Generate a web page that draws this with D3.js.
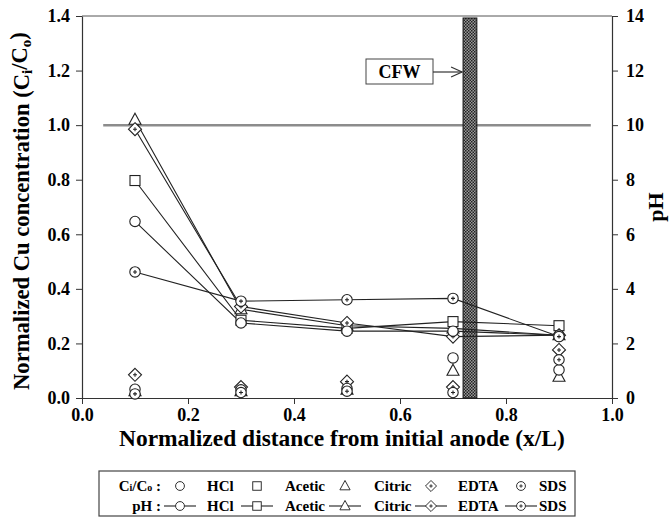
<!DOCTYPE html>
<html><head><meta charset="utf-8">
<script src="https://cdn.jsdelivr.net/npm/d3@7"></script>
<style>body{margin:0;background:#fff} svg{display:block} text{font-family:"Liberation Serif","Times New Roman",serif;font-weight:bold;fill:#000}</style>
</head><body><svg id="c" width="672" height="519"></svg>
<script>
// ---------- data ----------
const xPositions = [0.1, 0.3, 0.5, 0.7, 0.9];
const seriesNames = ["HCl", "Acetic", "Citric", "EDTA", "SDS"];
const seriesSymbols = ["circle", "square", "triangle", "diamond", "circleplus"];
// Normalized Cu concentration (Ci/Co), left axis
const ciHCl    = [0.032, 0.030, 0.035, 0.147, 0.103];
const ciAcetic = [null, null, null, null, null];
const ciCitric = [0.025, 0.025, 0.030, 0.100, 0.078];
const ciEDTA   = [0.085, 0.040, 0.060, 0.040, 0.176];
const ciSDS    = [0.015, 0.020, 0.025, 0.020, 0.140];
// pH, right axis
const phHCl    = [6.47, 2.75, 2.45, 2.45, 2.30];
const phAcetic = [7.97, 2.85, 2.55, 2.80, 2.65];
const phCitric = [10.2, 3.25, 2.65, 2.55, 2.30];
const phEDTA   = [9.85, 3.35, 2.75, 2.25, 2.30];
const phSDS    = [4.62, 3.55, 3.60, 3.65, 2.25];
// ticks
const xTicks = [0, 0.2, 0.4, 0.6, 0.8, 1.0];
const yLeftTicks = [0, 0.2, 0.4, 0.6, 0.8, 1.0, 1.2, 1.4];
const yRightTicks = [0, 2, 4, 6, 8, 10, 12, 14];
// reference line & filter wall
const refLineY = 1.0;
const refLineX = [0.04, 0.96];
const cfwRange = [0.719, 0.745];
const cfwLabel = "CFW";

const ciSeries = [ciHCl, ciAcetic, ciCitric, ciEDTA, ciSDS];
const phSeries = [phHCl, phAcetic, phCitric, phEDTA, phSDS];

// ---------- layout ----------
const svg = d3.select("#c");
const L = 82, R = 612, T = 16, B = 398;
const x = d3.scaleLinear().domain([0, 1]).range([L, R]);
const yL = d3.scaleLinear().domain([0, 1.4]).range([B, T]);
const yR = d3.scaleLinear().domain([0, 14]).range([B, T]);

// pattern for CFW
const defs = svg.append("defs");
const pat = defs.append("pattern").attr("id", "hatch").attr("width", 3).attr("height", 3)
  .attr("patternUnits", "userSpaceOnUse");
pat.append("rect").attr("width", 3).attr("height", 3).attr("fill", "#9a9a9a");
pat.append("rect").attr("x", 0).attr("y", 0).attr("width", 1.5).attr("height", 1.5).attr("fill", "#222");
pat.append("rect").attr("x", 1.5).attr("y", 1.5).attr("width", 1.5).attr("height", 1.5).attr("fill", "#222");

// frame
svg.append("line").attr("x1", L).attr("x2", R).attr("y1", T).attr("y2", T).attr("stroke", "#555").attr("stroke-width", 1);

// axes
const axB = d3.axisBottom(x).tickValues(xTicks).tickFormat(d3.format(".1f")).tickSize(6).tickPadding(4);
const axL = d3.axisLeft(yL).tickValues(yLeftTicks).tickFormat(d3.format(".1f")).tickSize(6).tickPadding(6);
const axR = d3.axisRight(yR).tickValues(yRightTicks).tickFormat(d3.format("d")).tickSize(6).tickPadding(8);
function styleAxis(g) {
  g.select(".domain").attr("stroke", "#333").attr("stroke-width", 1.2);
  g.selectAll(".tick line").attr("stroke", "#333");
  g.selectAll(".tick text").attr("font-size", 18).attr("font-family", "Liberation Serif").attr("font-weight", "bold").attr("fill", "#000");
}
svg.append("g").attr("transform", `translate(0,${B})`).call(axB.tickSizeOuter(0)).call(styleAxis);
svg.append("g").attr("transform", `translate(${L},0)`).call(axL.tickSizeOuter(0)).call(styleAxis);
svg.append("g").attr("transform", `translate(${R},0)`).call(axR.tickSizeOuter(0)).call(styleAxis);

// reference line
svg.append("line").attr("x1", x(refLineX[0])).attr("x2", x(refLineX[1]))
  .attr("y1", yL(refLineY)).attr("y2", yL(refLineY)).attr("stroke", "#8c8c8c").attr("stroke-width", 2.5);

// CFW bar
svg.append("rect").attr("x", x(cfwRange[0])).attr("y", T + 2)
  .attr("width", x(cfwRange[1]) - x(cfwRange[0])).attr("height", B - T - 2)
  .attr("fill", "url(#hatch)").attr("stroke", "#111").attr("stroke-width", 1);

// CFW label box + arrow
const bx = 366, by = 59, bw = 67, bh = 25;
svg.append("rect").attr("x", bx).attr("y", by).attr("width", bw).attr("height", bh)
  .attr("fill", "#fff").attr("stroke", "#444").attr("stroke-width", 1);
svg.append("text").attr("x", bx + bw / 2).attr("y", by + bh / 2 + 6.5).attr("text-anchor", "middle")
  .attr("font-size", 18).text(cfwLabel);
const ax0 = bx + bw, ax1 = x(cfwRange[0]) - 1, ay = 72;
svg.append("line").attr("x1", ax0).attr("x2", ax1).attr("y1", ay).attr("y2", ay).attr("stroke", "#333").attr("stroke-width", 1.2);
svg.append("path").attr("d", `M${ax1 - 11},${ay - 5} L${ax1},${ay} L${ax1 - 11},${ay + 5}`)
  .attr("fill", "none").attr("stroke", "#333").attr("stroke-width", 1.2);

// marker drawer
function marker(g, type, cx, cy) {
  const s = g.append("g").attr("transform", `translate(${cx},${cy})`);
  const st = (el) => el.attr("fill", "#fff").attr("stroke", "#222").attr("stroke-width", 1.1);
  if (type === "circle") st(s.append("circle").attr("r", 5.2));
  else if (type === "square") st(s.append("rect").attr("x", -5).attr("y", -5).attr("width", 10).attr("height", 10));
  else if (type === "triangle") st(s.append("path").attr("d", "M0,-6.5 L6,4.5 L-6,4.5 Z"));
  else if (type === "diamond") {
    st(s.append("path").attr("d", "M0,-6.5 L6.5,0 L0,6.5 L-6.5,0 Z"));
    s.append("path").attr("d", "M-2,0 L2,0 M0,-2 L0,2").attr("stroke", "#222").attr("stroke-width", 1.1);
  } else if (type === "circleplus") {
    st(s.append("circle").attr("r", 5.2));
    s.append("path").attr("d", "M-2,0 L2,0 M0,-2 L0,2").attr("stroke", "#222").attr("stroke-width", 1.1);
  }
  return s;
}

// pH lines
const line = d3.line().x((d) => x(d[0])).y((d) => yR(d[1]));
const gLines = svg.append("g");
phSeries.forEach((arr) => {
  gLines.append("path").datum(xPositions.map((xv, i) => [xv, arr[i]]))
    .attr("d", line).attr("fill", "none").attr("stroke", "#222").attr("stroke-width", 1.1);
});
// markers (draw order: triangle, square, diamond, circle, circleplus)
const gMarks = svg.append("g");
const order = [2, 1, 3, 0, 4];
order.forEach((si) => {
  ciSeries[si].forEach((v, i) => { if (v != null) marker(gMarks, seriesSymbols[si], x(xPositions[i]), yL(v)); });
});
order.forEach((si) => {
  phSeries[si].forEach((v, i) => { if (v != null) marker(gMarks, seriesSymbols[si], x(xPositions[i]), yR(v)); });
});

// fit a text element (bbox width) to a target length
function fitTo(sel, target) {
  const w = sel.node().getBBox().width;
  const fs = parseFloat(sel.attr("font-size"));
  if (w > 0) sel.attr("font-size", (fs * target / w).toFixed(2));
}

// axis titles
const xt = svg.append("text").attr("x", 0).attr("y", 446).attr("font-size", 22)
  .text("Normalized distance from initial anode (x/L)");
fitTo(xt, 446);
xt.attr("x", 119);
const yt = svg.append("text").attr("transform", `translate(29,390) rotate(-90)`).attr("x", 0).attr("y", 0).attr("font-size", 22);
yt.append("tspan").text("Normalized Cu concentration (C");
yt.append("tspan").attr("font-size", "0.66em").attr("dy", "0.22em").text("i");
yt.append("tspan").attr("dy", "-0.22em").text("/C");
yt.append("tspan").attr("font-size", "0.66em").attr("dy", "0.22em").text("o");
yt.append("tspan").attr("dy", "-0.22em").text(")");
fitTo(yt, 358);
svg.append("text").attr("transform", `translate(663,${(T + B) / 2}) rotate(-90)`).attr("text-anchor", "middle").attr("font-size", 22).text("pH");

// legend
const lg = svg.append("g");
lg.append("rect").attr("x", 99).attr("y", 471).attr("width", 476).attr("height", 45).attr("fill", "#fff").attr("stroke", "#444").attr("stroke-width", 1.2);
const row1 = 486, row2 = 506;
const fs = 15;
const t1 = lg.append("text").attr("x", 161).attr("y", row1 + 5).attr("text-anchor", "end").attr("font-size", fs);
t1.append("tspan").text("C"); t1.append("tspan").attr("font-size", 10).text("i");
t1.append("tspan").text("/C"); t1.append("tspan").attr("font-size", 10).text("o");
t1.append("tspan").text(" :");
lg.append("text").attr("x", 161).attr("y", row2 + 5).attr("text-anchor", "end").attr("font-size", fs).text("pH :");
const symX = [180, 257, 345, 431, 521];
const labX = [207, 285, 374, 458, 539];
seriesNames.forEach((nm, i) => {
  const m = marker(lg, seriesSymbols[i], symX[i], row1);
  m.attr("transform", `translate(${symX[i]},${row1}) scale(0.85)`);
  lg.append("line").attr("x1", symX[i] - 16).attr("x2", symX[i] + 16).attr("y1", row2).attr("y2", row2).attr("stroke", "#222").attr("stroke-width", 1.1);
  const m2 = marker(lg, seriesSymbols[i], symX[i], row2);
  m2.attr("transform", `translate(${symX[i]},${row2}) scale(0.85)`);
  lg.append("text").attr("x", labX[i]).attr("y", row1 + 5).attr("font-size", fs).text(nm);
  lg.append("text").attr("x", labX[i]).attr("y", row2 + 5).attr("font-size", fs).text(nm);
});
</script></body></html>
